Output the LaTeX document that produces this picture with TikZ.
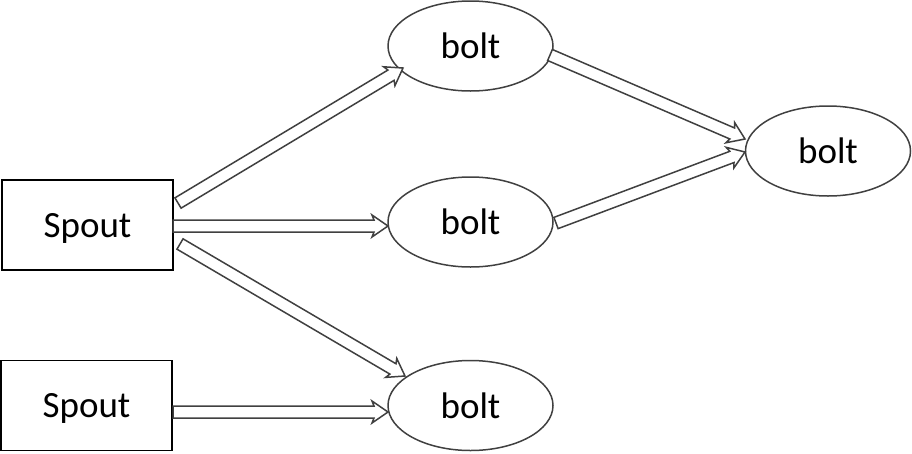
\documentclass[tikz,border=0pt]{standalone}
\usepackage{fontspec}
\setmainfont{Carlito}
\usetikzlibrary{calc,shapes.geometric}
\tikzset{
  label/.style={font=\fontsize{37}{40}\selectfont, text depth=0pt},
  box/.style={label, draw=black, line width=1.6pt, minimum width=171pt, minimum height=90pt, inner sep=0pt},
  oval/.style={label, draw=black!75, line width=1.5pt, ellipse, minimum width=165pt, minimum height=90pt, inner sep=0pt},
  arrowline/.style={draw=black!75, line width=1.5pt, line join=miter, fill=white},
}
\newcommand\hw{6pt}
\newcommand\hh{11pt}
\newcommand\hl{14pt}
\newcommand\hb{2pt}
\newcommand\blockarr[2]{%
\draw[arrowline] let \p1=(#1), \p2=(#2), \n1={atan2(\y2-\y1,\x2-\x1)}, \n2={veclen(\x2-\x1,\y2-\y1)} in
 ($(\p1)+(\n1+90:\hw)$) -- ($(\p1)+(\n1:{\n2-\hl})+(\n1+90:\hw)$) -- ($(\p1)+(\n1:{\n2-\hl-\hb})+(\n1+90:\hh)$) -- (\p2) -- ($(\p1)+(\n1:{\n2-\hl-\hb})+(\n1-90:\hh)$) -- ($(\p1)+(\n1:{\n2-\hl})+(\n1-90:\hw)$) -- ($(\p1)+(\n1-90:\hw)$) -- cycle;}
\begin{document}
\begin{tikzpicture}[x=1pt, y=-1pt]
\useasboundingbox (0,0) rectangle (912,453);
\node[box] (s1) at (87.5,225) {Spout};
\node[box] (s2) at (86.5,405.5) {Spout};
\node[oval] (b1) at (470.5,46) {bolt};
\node[oval] (b2) at (470.5,222) {bolt};
\node[oval] (b3) at (470.5,405.5) {bolt};
\node[oval] (b4) at (828,151) {bolt};
\coordinate (t1) at (178,203);
\coordinate (h1) at (403,68);
\coordinate (t2) at (173,226);
\coordinate (h2) at (388,226);
\coordinate (t3) at (180,244);
\coordinate (h3) at (405,376);
\coordinate (t4) at (173,412);
\coordinate (h4) at (388,412);
\coordinate (t5) at (550,55);
\coordinate (h5) at (745,139);
\coordinate (t6) at (556,223);
\coordinate (h6) at (745,152);
\blockarr{t1}{h1}
\blockarr{t2}{h2}
\blockarr{t3}{h3}
\blockarr{t4}{h4}
\blockarr{t5}{h5}
\blockarr{t6}{h6}
\end{tikzpicture}
\end{document}
